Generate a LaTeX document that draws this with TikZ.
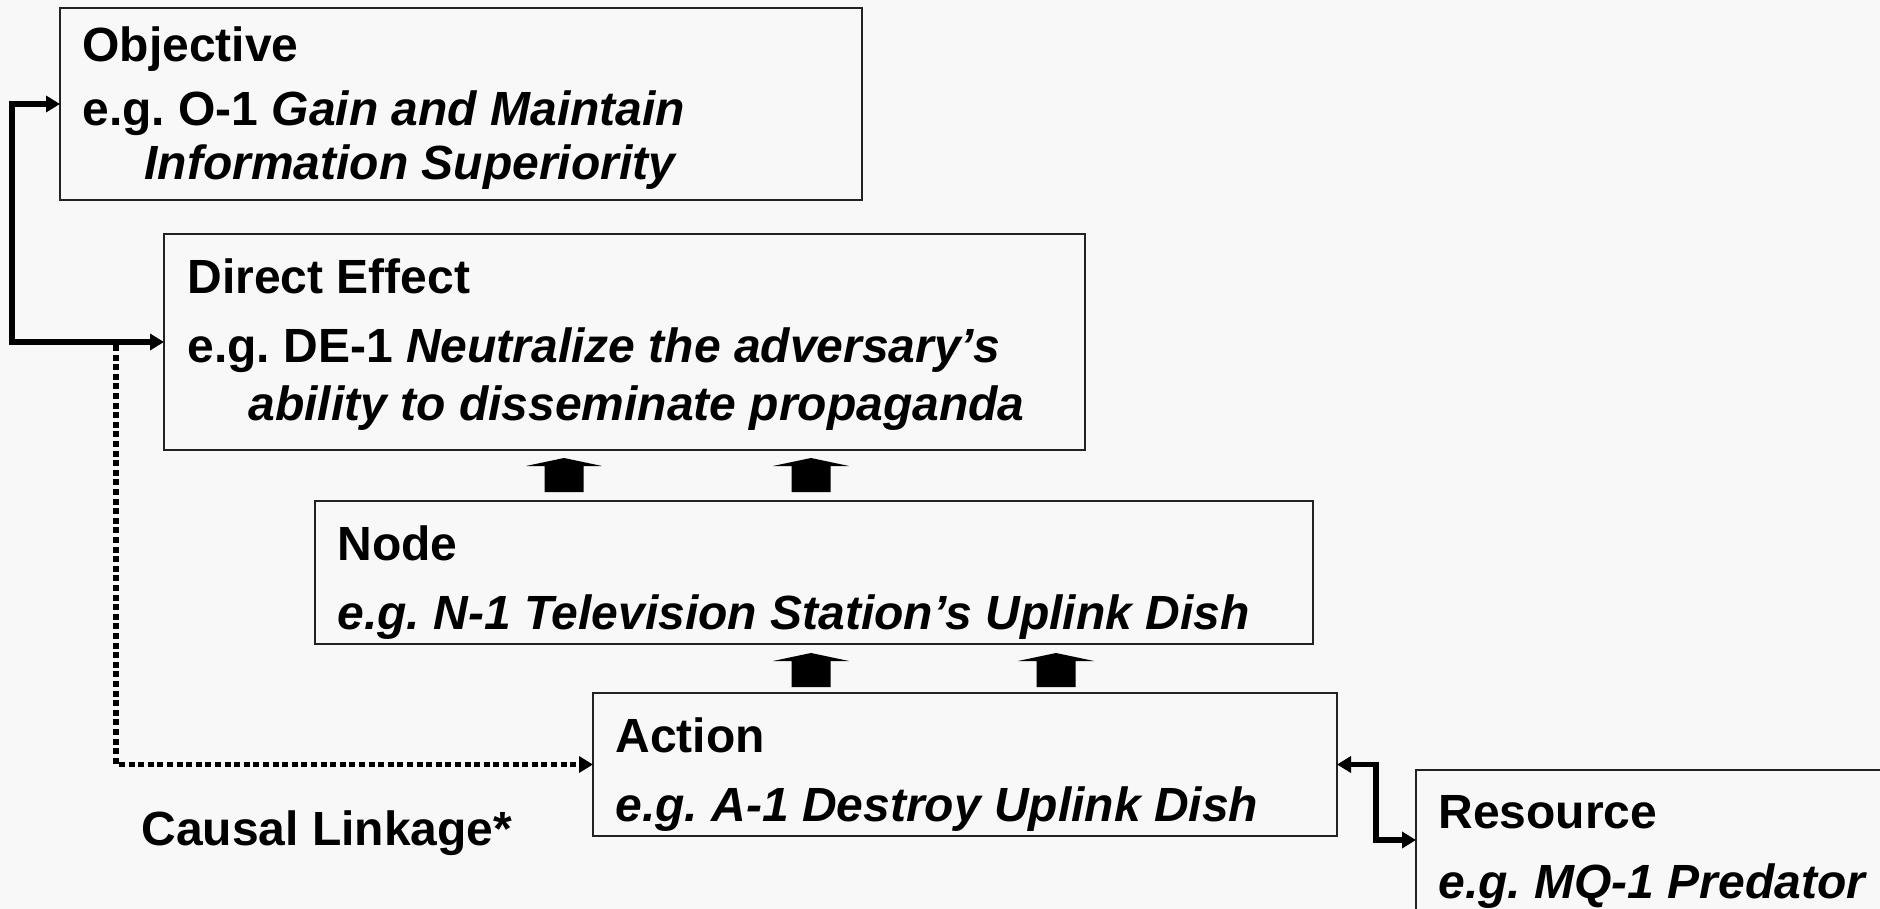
\documentclass[tikz,border=0pt]{standalone}
\usepackage{fontspec}
\setmainfont{Liberation Sans}
\usetikzlibrary{arrows.meta,calc,positioning}
\definecolor{bgcol}{HTML}{F8F8F8}
\definecolor{edgecol}{HTML}{222222}
\frenchspacing

\begin{document}
\begin{tikzpicture}[x=0.5pt,y=-0.5pt,
    box/.style={rectangle, draw=edgecol, line width=1pt, anchor=north west, inner sep=0pt, outer sep=0pt},
    txt/.style={anchor=base west, inner sep=0pt, font=\fontsize{24}{28}\selectfont\bfseries},
    link/.style={line width=2.6pt, {Triangle[length=7pt,width=8pt]}-{Triangle[length=7pt,width=8pt]}},
    causal/.style={line width=2.8pt, dash pattern=on 3pt off 1.8pt, -{Triangle[length=7pt,width=8pt]}},
    upblock/.pic={\fill (-19.5,0) -- (-19.5,-26) -- (-38,-26) -- (0,-34) -- (38,-26) -- (19.5,-26) -- (19.5,0) -- cycle;}
]

% Page
\clip (0,0) rectangle (1880,909);
\fill[bgcol] (0,0) rectangle (1880,909);

% Objective
\node[box, minimum width=401pt, minimum height=96pt] (obj) at (60,8) {};
\node[txt] (objT) at (82,62) {Objective};
\node[txt] (objA) at (82,126) {e.g. O-1 \textit{Gain and Maintain}};
\node[txt] (objB) at (144,180) {\textit{Information Superiority}};

% Direct effect
\node[box, minimum width=460.5pt, minimum height=108pt] (de) at (164,234) {};
\node[txt] (deT) at (187,294) {Direct Effect};
\node[txt] (deA) at (187,363) {e.g. DE-1 \textit{Neutralize the adversary’s}};
\node[txt] (deB) at (248,420) {\textit{ability to disseminate propaganda}};

% Node
\node[box, minimum width=499pt, minimum height=71.5pt] (nd) at (315,501) {};
\node[txt] (ndT) at (337,560) {Node};
\node[txt] (ndA) at (337,629) {\textit{e.g. N-1 Television Station’s Uplink Dish}};

% Action
\node[box, minimum width=372pt, minimum height=71.5pt] (act) at (593,693) {};
\node[txt] (actT) at (615,752) {Action};
\node[txt] (actA) at (615,821) {\textit{e.g. A-1 Destroy Uplink Dish}};

% Resource
\node[box, minimum width=250pt, minimum height=70pt] (res) at (1416,770) {};
\node[txt] (resT) at (1438,828) {Resource};
\node[txt] (resA) at (1438,898) {\textit{e.g. MQ-1 Predator}};

% Causal linkage label
\node[txt] (cl) at (141,845) {Causal Linkage*};

% Block arrows
\pic at (564,492) {upblock};
\pic at (811,492) {upblock};
\pic at (811,687) {upblock};
\pic at (1056,687) {upblock};

% Connectors
\draw[link] (obj.west) -- ++(-48,0) |- (de.west);
\coordinate (clstart) at ($(de.west)+(-48,3)$);
\draw[causal] (clstart) |- (act.west);
\draw[link] (act.east) -- ++(39,0) |- (res.west);

\end{tikzpicture}
\end{document}
